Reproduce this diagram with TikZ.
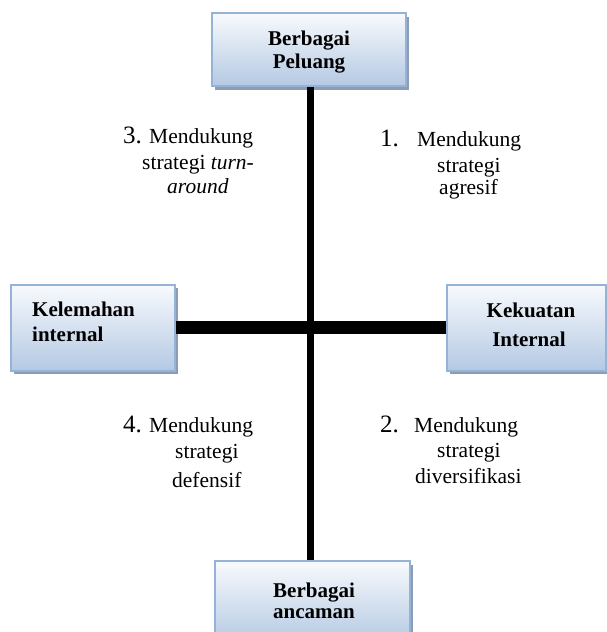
\documentclass[tikz,border=0pt]{standalone}
\usepackage{fontspec}
\setmainfont{Liberation Serif}
\usetikzlibrary{shadows}
\definecolor{boxborder}{HTML}{95B3D7}
\definecolor{boxtop}{HTML}{F8FAFD}
\definecolor{boxbot}{HTML}{B4C9E3}
\definecolor{shadowgray}{HTML}{8C9CB3}
\tikzset{
  quadbox/.style={draw=boxborder, line width=2pt, top color=boxtop, bottom color=boxbot,
    inner sep=0pt, drop shadow={shadow xshift=3pt, shadow yshift=-3.5pt, fill=shadowgray, opacity=1}},
  boxtext/.style={font=\fontsize{21}{24}\selectfont\bfseries, inner sep=0pt},
  lbl/.style={font=\fontsize{21.5}{24}\selectfont, inner sep=0pt, anchor=base west},
  num/.style={font=\fontsize{25}{28}\selectfont, inner sep=0pt, anchor=base west},
  axis/.style={line width=#1, black}
}
\begin{document}
\begin{tikzpicture}[x=1pt,y=-1pt]
\useasboundingbox (0,0) rectangle (607,632);
% boxes
\node[quadbox, minimum width=194pt, minimum height=73pt] (top) at (309,49.5) {};
\node[quadbox, minimum width=164pt, minimum height=86pt] (left) at (93,327.5) {};
\node[quadbox, minimum width=159pt, minimum height=86pt] (right) at (526.5,327.5) {};
\node[quadbox, minimum width=195pt, minimum height=82pt] (bot) at (312.5,602) {};
% axes
\coordinate (vx) at (310.5,327.5);
\draw[axis=7pt] (vx |- top.south) -- (vx |- bot.north);
\draw[axis=13pt] (left.east) -- (right.west);
% box texts
\node[boxtext, anchor=base] (t1) at (309,45) {Berbagai};
\node[boxtext, anchor=base] (t2) at (309,68) {Peluang};
\node[boxtext, anchor=base west] (l1) at (32,316) {Kelemahan};
\node[boxtext, anchor=base west] (l2) at (32,341) {internal};
\node[boxtext, anchor=base] (r1) at (531,317) {Kekuatan};
\node[boxtext, anchor=base] (r2) at (529,346) {Internal};
\node[boxtext, anchor=base] (b1) at (314,597) {Berbagai};
\node[boxtext, anchor=base] (b2) at (314,618) {ancaman};
% quadrant 3
\node[num] (n3) at (123,143) {3.};
\node[lbl] (q3a) at (149,143) {Mendukung};
\node[lbl] (q3b) at (142,169) {strategi \textit{turn-}};
\node[lbl] (q3c) at (167,193) {\textit{around}};
% quadrant 1
\node[num] (n1) at (380,146) {1.};
\node[lbl] (q1a) at (417,146) {Mendukung};
\node[lbl] (q1b) at (437,172) {strategi};
\node[lbl] (q1c) at (439,194) {agresif};
% quadrant 4
\node[num] (n4) at (123,432) {4.};
\node[lbl] (q4a) at (149,432) {Mendukung};
\node[lbl] (q4b) at (175,458) {strategi};
\node[lbl] (q4c) at (172,487) {defensif};
% quadrant 2
\node[num] (n2) at (380,432) {2.};
\node[lbl] (q2a) at (414,432) {Mendukung};
\node[lbl] (q2b) at (437,457) {strategi};
\node[lbl] (q2c) at (415,483) {diversifikasi};
\end{tikzpicture}
\end{document}
